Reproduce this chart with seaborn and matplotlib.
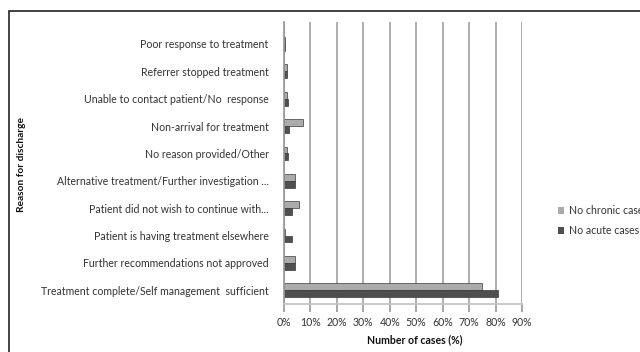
import matplotlib
matplotlib.use("Agg")
import matplotlib.pyplot as plt
import seaborn as sns
import pandas as pd
from matplotlib.patches import Rectangle, Patch

reasons = [
    "Poor response to treatment",
    "Referrer stopped treatment",
    "Unable to contact patient/No  response",
    "Non-arrival for treatment",
    "No reason provided/Other",
    "Alternative treatment/Further investigation ...",
    "Patient did not wish to continue with...",
    "Patient is having treatment elsewhere",
    "Further recommendations not approved",
    "Treatment complete/Self management  sufficient",
]
chronic = [0.5, 1.0, 1.0, 7.0, 1.0, 4.0, 5.5, 0.3, 4.0, 75.0]
acute = [0.5, 1.0, 1.5, 2.0, 1.5, 4.0, 3.0, 3.0, 4.0, 81.0]
series = ["No chronic cases", "No acute cases"]
xticks = [0, 10, 20, 30, 40, 50, 60, 70, 80, 90]

df = pd.DataFrame({
    "reason": reasons * 2,
    "value": chronic + acute,
    "series": [series[0]] * len(reasons) + [series[1]] * len(reasons),
})

sns.set_theme(style="white")
plt.rcParams["font.family"] = ["Lato", "DejaVu Sans"]

fig = plt.figure(figsize=(6.4, 3.52), dpi=100)
ax = fig.add_axes([284 / 640, 1 - 304 / 352, 238 / 640, 282 / 352])

colors = {series[0]: "#ababab", series[1]: "#4f4f4f"}
sns.barplot(data=df, x="value", y="reason", hue="series", hue_order=series,
            order=reasons, orient="h", palette=colors, width=0.5,
            edgecolor="#3a3a3a", linewidth=0.5, legend=False, ax=ax)

ax.set_xlim(0, 90)
ax.set_ylim(9.5, -0.8)
ax.set_xticks(xticks)
ax.set_xticklabels([f"{t}%" for t in xticks])
ax.grid(axis="x", color="#a0a0a0", linewidth=1.2)
ax.grid(axis="y", visible=False)
ax.set_axisbelow(True)
for s in ["top", "right"]:
    ax.spines[s].set_visible(False)
ax.spines["left"].set_color("#9a9a9a")
ax.spines["bottom"].set_color("#c4c4c4")
ax.tick_params(axis="x", bottom=True, length=6, color="#9a9a9a",
               labelsize=7.6, labelcolor="#333333", pad=3)
ax.tick_params(axis="y", left=False, labelsize=7.6, labelcolor="#333333", pad=5)
ax.set_xlabel("")
ax.set_ylabel("")

fig.text(22 / 640, 1 - 165 / 352, "Reason for discharge", rotation=90,
         ha="center", va="center", fontsize=7.3, fontweight="bold", color="#111111")
fig.text(415 / 640, 1 - 340 / 352, "Number of cases (%)", ha="center",
         va="center", fontsize=7.6, fontweight="bold", color="#111111")

handles = [Patch(facecolor=colors[s], edgecolor="none") for s in series]
fig.legend(handles, series, loc="upper left",
           bbox_to_anchor=(548 / 640, 1 - 196 / 352), frameon=False,
           fontsize=7.6, handlelength=0.6, handleheight=0.6,
           handletextpad=0.5, labelspacing=0.8, labelcolor="#333333")

fig.patches.append(Rectangle((9 / 640, -0.1), 1.2, 1 - 11 / 352 + 0.1,
                             transform=fig.transFigure, fill=False,
                             edgecolor="#222222", linewidth=1.2))

fig.savefig("out.png", dpi=100)
